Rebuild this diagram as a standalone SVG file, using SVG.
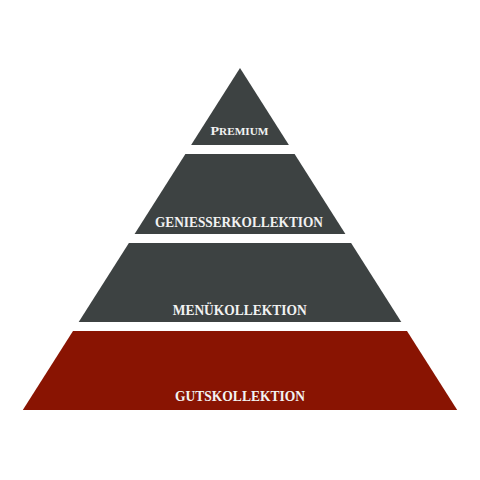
<svg xmlns="http://www.w3.org/2000/svg" width="480" height="480" viewBox="0 0 480 480">
<style>
.g{fill:#3d4242}
.r{fill:#891402}
.t{fill:#f2f2f2;font-family:"Liberation Serif","DejaVu Serif",serif;font-weight:bold;text-anchor:middle}
</style>
<rect width="480" height="480" fill="#ffffff"/>
<g id="premium">
<polygon class="g" points="240,68 288.9,145 191.1,145"/>
<text class="t" x="239.5" y="135" font-size="12.5" textLength="58" lengthAdjust="spacingAndGlyphs">P<tspan font-size="10">REMIUM</tspan></text>
</g>
<g id="geniesserkollektion">
<polygon class="g" points="185.4,154 294.6,154 345.4,234 134.6,234"/>
<text class="t" x="239" y="227.3" font-size="14" textLength="168" lengthAdjust="spacingAndGlyphs">GENIESSERKOLLEKTION</text>
</g>
<g id="menuekollektion">
<polygon class="g" points="128.9,243 351.1,243 401.3,322 78.7,322"/>
<text class="t" x="239.7" y="315" font-size="14" textLength="134" lengthAdjust="spacingAndGlyphs">MENÜKOLLEKTION</text>
</g>
<g id="gutskollektion">
<polygon class="r" points="73,331 407,331 457.2,410 22.8,410"/>
<text class="t" x="240" y="401" font-size="14" textLength="130" lengthAdjust="spacingAndGlyphs">GUTSKOLLEKTION</text>
</g>
</svg>
